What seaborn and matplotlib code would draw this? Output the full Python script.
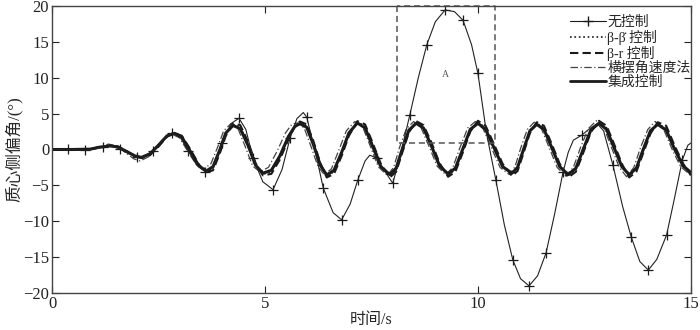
import numpy as np
import matplotlib
matplotlib.use("Agg")
import matplotlib.pyplot as plt
from matplotlib.lines import Line2D
import seaborn as sns

# time axis ticks and limits
x_ticks = [0, 5, 10, 15]
y_ticks = [-20, -15, -10, -5, 0, 5, 10, 15, 20]

# no control (thin line with + markers)
nc_t = [0, 0.38, 0.77, 1.0, 1.2, 1.36, 1.6, 1.8, 2.0, 2.15, 2.37, 2.6, 2.82, 3.0, 3.2,
        3.4, 3.6, 3.8, 4.0, 4.2, 4.39, 4.55, 4.72, 4.95, 5.19, 5.4, 5.59, 5.75, 5.9,
        5.98, 6.2, 6.37, 6.6, 6.8, 7.0, 7.18, 7.35, 7.46, 7.63, 7.8, 8.0, 8.15, 8.4,
        8.6, 8.8, 9.0, 9.23, 9.45, 9.65, 9.85, 10.0, 10.2, 10.42, 10.62, 10.82, 11.0,
        11.2, 11.4, 11.6, 11.8, 12.0, 12.12, 12.24, 12.44, 12.6, 12.8, 12.95, 13.17,
        13.4, 13.6, 13.8, 14.0, 14.2, 14.43, 14.6, 14.8, 14.93, 15.0]
nc_v = [0, 0, -0.1, 0.05, 0.4, 0.5, 0.1, -0.5, -1.0, -1.0, -0.2, 1.4, 2.3, 1.8, -0.2,
        -2.2, -3.1, -2.2, 0.9, 3.6, 4.35, 2.8, -1.2, -4.5, -5.6, -2.8, 1.6, 4.3, 5.15,
        4.5, -0.8, -5.4, -8.8, -9.8, -7.6, -4.25, -1.6, -0.8, -1.2, -2.9, -4.7, -1.5, 4.8,
        10.0, 14.6, 17.8, 19.45, 19.2, 18.0, 14.6, 10.6, 2.3, -4.25, -10.5, -15.4, -18.0,
        -19.0, -17.6, -14.4, -9.0, -3.1, -0.4, 1.3, 2.0, 2.8, 3.6, 2.6, -2.2,
        -8.0, -12.2, -15.6, -16.8, -15.3, -11.9, -7.2, -1.45, 0.6, 0.9]
nc_marks = [0.38, 0.77, 1.2, 1.6, 2.0, 2.37, 2.82, 3.2, 3.6, 4.0, 4.39, 4.72, 5.19, 5.59,
            5.98, 6.37, 6.8, 7.18, 7.63, 8.0, 8.4, 8.8, 9.23, 9.65, 10.0, 10.42, 10.82,
            11.2, 11.6, 12.0, 12.44, 13.17, 13.6, 14.0, 14.43, 14.8]

# time grid shared by the controlled cases
ctl_t = [0, 0.5, 0.9, 1.1, 1.36, 1.55, 1.75, 1.95, 2.1, 2.3, 2.5, 2.7, 2.88, 3.05, 3.25,
         3.45, 3.62, 3.78, 3.93, 4.08, 4.25, 4.42, 4.6, 4.78, 4.95, 5.15, 5.35, 5.55,
         5.7, 5.82, 5.98, 6.13, 6.3, 6.45, 6.62, 6.8, 6.97, 7.17, 7.35, 7.53, 7.72, 7.93,
         8.08, 8.22, 8.38, 8.55, 8.72, 8.9, 9.1, 9.3, 9.47, 9.64, 9.82, 10.0, 10.18,
         10.38, 10.58, 10.8, 10.93, 11.07, 11.22, 11.38, 11.55, 11.73, 11.92, 12.12,
         12.3, 12.47, 12.65, 12.84, 13.02, 13.2, 13.38, 13.55, 13.72, 13.88, 14.05,
         14.22, 14.42, 14.62, 14.82, 15.0]

# integrated control (thick solid)
int_v = [0, 0, 0.05, 0.3, 0.5, 0.35, -0.3, -0.9, -1.1, -0.6, 0.6, 1.9, 2.25, 1.7, -0.3,
         -2.3, -3.0, -2.4, -0.2, 2.3, 3.35, 2.9, 0.6, -2.2, -3.3, -2.9, -0.9, 1.8,
         3.2, 3.6, 3.1, 0.8, -2.2, -3.55, -2.9, -0.4, 2.3, 3.7, 3.0, 0.4, -2.4, -3.5,
         -2.6, 0.0, 2.7, 3.65, 3.0, 0.6, -2.3, -3.4, -2.6, 0.0, 2.8, 3.65, 2.8,
         0.2, -2.4, -3.3, -2.5, 0.0, 2.6, 3.5, 2.8, 0.3, -2.4, -3.5,
         -2.6, 0.0, 2.7, 3.65, 2.8, 0.2, -2.4, -3.5, -2.6, 0.0, 2.6,
         3.5, 2.7, 0.0, -2.3, -3.2]

# beta - beta dot control (dotted)
bb_v = [0, 0, 0.05, 0.3, 0.55, 0.4, -0.3, -1.0, -1.2, -0.7, 0.5, 1.9, 2.3, 1.8, -0.2,
        -2.3, -3.1, -2.6, -0.4, 2.2, 3.5, 3.1, 0.8, -2.2, -3.45, -3.1, -1.0, 1.7,
        3.3, 3.75, 3.3, 1.0, -2.1, -3.7, -3.1, -0.6, 2.2, 3.85, 3.2, 0.6, -2.3, -3.65,
        -2.8, -0.2, 2.6, 3.8, 3.2, 0.8, -2.2, -3.55, -2.8, -0.2, 2.7, 3.8, 3.0,
        0.4, -2.3, -3.45, -2.7, -0.2, 2.5, 3.65, 3.0, 0.5, -2.3, -3.65,
        -2.8, -0.2, 2.6, 3.8, 3.0, 0.4, -2.3, -3.65, -2.8, -0.2, 2.5,
        3.65, 2.9, 0.2, -2.2, -3.3]

# beta - r control (dashed)
br_v = [0, 0, 0.05, 0.3, 0.5, 0.4, -0.2, -0.9, -1.2, -0.8, 0.4, 1.8, 2.3, 1.9, 0.0,
        -2.1, -3.2, -2.9, -0.7, 1.9, 3.6, 3.4, 1.1, -1.9, -3.6, -3.4, -1.4, 1.4,
        3.2, 3.9, 3.5, 1.3, -1.9, -3.9, -3.4, -0.9, 1.9, 3.95, 3.5, 0.9, -2.0, -3.9,
        -3.1, -0.5, 2.4, 3.95, 3.4, 1.1, -1.9, -3.8, -3.1, -0.5, 2.5, 4.0, 3.3,
        0.7, -2.0, -3.7, -3.0, -0.5, 2.3, 3.8, 3.3, 0.8, -2.0, -3.9,
        -3.1, -0.5, 2.4, 4.0, 3.3, 0.7, -2.0, -3.9, -3.1, -0.5, 2.2,
        3.8, 3.3, 0.5, -2.0, -3.6]

# yaw rate method (dash-dot)
yr_t = [0, 0.5, 0.9, 1.1, 1.33, 1.52, 1.72, 1.92, 2.07, 2.27, 2.47, 2.67, 2.83, 3.0, 3.2,
        3.4, 3.56, 3.73, 3.88, 4.03, 4.2, 4.36, 4.53, 4.71, 4.88, 5.08, 5.28, 5.48,
        5.63, 5.76, 5.92, 6.07, 6.24, 6.39, 6.56, 6.74, 6.91, 7.11, 7.29, 7.47, 7.66,
        7.87, 8.02, 8.16, 8.32, 8.49, 8.66, 8.84, 9.04, 9.24, 9.41, 9.58, 9.76, 9.94,
        10.12, 10.32, 10.52, 10.74, 10.87, 11.01, 11.16, 11.32, 11.49, 11.67, 11.86,
        12.06, 12.24, 12.41, 12.59, 12.78, 12.96, 13.14, 13.32, 13.49, 13.66, 13.82,
        13.99, 14.16, 14.36, 14.56, 14.76, 15.0]
yr_v = [0, 0, 0.05, 0.4, 0.75, 0.5, -0.4, -1.3, -1.6, -1.0, 0.3, 1.6, 2.1, 1.6, -0.4,
        -2.2, -2.7, -2.0, 0.2, 2.6, 3.6, 3.0, 0.5, -2.3, -3.1, -2.5, -0.3, 2.3,
        3.5, 3.7, 3.0, 0.6, -2.3, -3.5, -2.7, 0.0, 2.6, 3.9, 3.2, 0.5, -2.4,
        -3.6, -2.5, 0.3, 2.9, 3.9, 3.1, 0.6, -2.3, -3.5, -2.5, 0.3, 3.0, 3.9,
        2.9, 0.2, -2.5, -3.5, -2.4, 0.3, 2.8, 3.8, 2.9, 0.3, -2.5,
        -3.7, -2.5, 0.3, 2.9, 4.0, 3.0, 0.2, -2.5, -3.8, -2.5, 0.3,
        2.8, 3.9, 2.8, 0.0, -2.4, -3.6]

# region A (dashed box)
box_t = [8.1, 10.4]
box_v = [0.9, 20]

labels = ['无控制', 'β-β\u0307 控制', 'β-r 控制', '横摆角速度法', '集成控制']

sns.set_theme(style='ticks')
plt.rcParams['font.family'] = ['Liberation Serif', 'Noto Sans CJK SC']
plt.rcParams['axes.unicode_minus'] = True

fig, ax = plt.subplots(figsize=(7, 3.3), dpi=100)
fig.subplots_adjust(left=0.0743, right=0.987, top=0.982, bottom=0.112)

sns.lineplot(x=yr_t, y=yr_v, ax=ax, color='#444444', lw=0.9, linestyle=(0, (6, 2, 1, 2)),
             sort=False, estimator=None)
sns.lineplot(x=ctl_t, y=bb_v, ax=ax, color='k', lw=1.2, linestyle=':',
             sort=False, estimator=None)
sns.lineplot(x=ctl_t, y=br_v, ax=ax, color='k', lw=1.5, linestyle=(0, (4, 2)),
             sort=False, estimator=None)
sns.lineplot(x=ctl_t, y=int_v, ax=ax, color='k', lw=2.2,
             sort=False, estimator=None)
sns.lineplot(x=nc_t, y=nc_v, ax=ax, color='#222222', lw=0.8,
             sort=False, estimator=None)

mark_v = [v for t, v in zip(nc_t, nc_v) if t in nc_marks]
mark_t = [t for t in nc_t if t in nc_marks]
sns.scatterplot(x=mark_t, y=mark_v, ax=ax, marker='+', s=60, color='k', linewidth=0.9)

# dashed box around region A
ax.plot([box_t[0], box_t[0], box_t[1], box_t[1], box_t[0]],
        [box_v[1], box_v[0], box_v[0], box_v[1], box_v[1]],
        color='#555555', lw=1.1, linestyle=(0, (4, 2.5)), clip_on=False)
ax.text(9.23, 10.4, 'A', fontsize=7, color='#555555', ha='center', va='center')

ax.set_xlim(0, 15)
ax.set_ylim(-20, 20)
ax.set_xticks(x_ticks)
ax.set_yticks(y_ticks)
ax.tick_params(direction='in', length=5, width=0.8, top=True, right=True,
               labelsize=12, colors='#222222', pad=2)
for sp in ax.spines.values():
    sp.set_color('#444444')
    sp.set_linewidth(1.0)
ax.set_xlabel('时间/s', fontsize=11.5, labelpad=0)
ax.set_ylabel('质心侧偏角/(°)', fontsize=12, labelpad=0)

handles = [
    Line2D([], [], color='k', lw=0.8, marker='+', markersize=7),
    Line2D([], [], color='k', lw=1.2, linestyle=':'),
    Line2D([], [], color='k', lw=1.5, linestyle=(0, (4, 2))),
    Line2D([], [], color='#444444', lw=0.9, linestyle=(0, (6, 2, 1, 2))),
    Line2D([], [], color='k', lw=2.0),
]
ax.legend(handles, labels, loc='upper right', bbox_to_anchor=(1.017, 1.005), frameon=False,
          fontsize=10, handlelength=2.6, handletextpad=0.1, labelspacing=0.05,
          borderpad=0.3)

fig.savefig('out.png', dpi=100)
